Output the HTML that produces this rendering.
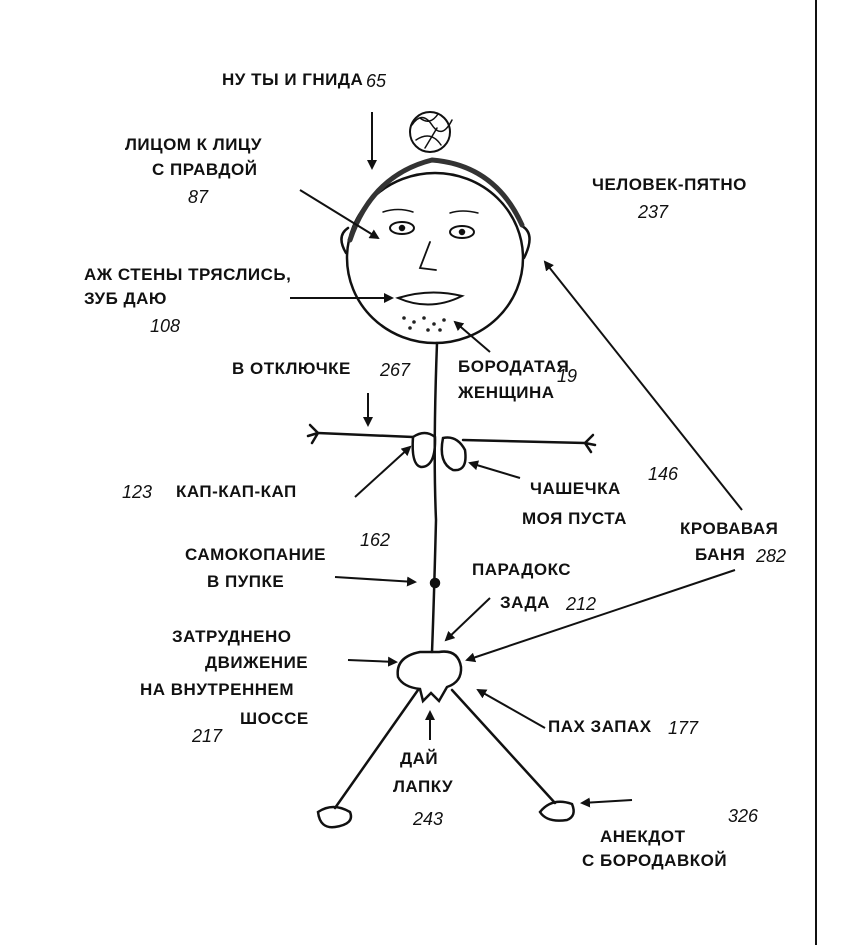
<!DOCTYPE html>
<html><head><meta charset="utf-8"><style>
html,body{margin:0;padding:0;background:#fff;}
svg{display:block}
.t{font-family:"Liberation Sans","Noto Sans CJK SC",sans-serif;font-weight:bold;font-size:17px;fill:#111;letter-spacing:0.5px}
.n{font-family:"Liberation Sans",sans-serif;font-style:italic;font-size:18px;fill:#111}
</style></head><body>
<svg width="859" height="945" viewBox="0 0 859 945" xmlns="http://www.w3.org/2000/svg">
<defs><marker id="a" markerWidth="10" markerHeight="10" refX="8" refY="5" orient="auto" markerUnits="userSpaceOnUse"><path d="M0,0 L10,5 L0,10 z" fill="#111"/></marker></defs>
<line x1="816" y1="0" x2="816" y2="945" stroke="#111" stroke-width="2"/>
<g fill="none" stroke="#111" stroke-width="2.5" stroke-linecap="round">
<ellipse cx="435" cy="258" rx="88" ry="85"/>
<path d="M348,228 q-12,8 -2,25 M522,226 q14,8 2,32" />
<path d="M350,240 Q372,175 432,160 Q495,165 522,225" stroke-width="5" stroke="#333"/>
<circle cx="430" cy="132" r="20" stroke-width="2"/>
<path d="M412,125 q10,-15 20,0 q10,15 20,-5 M416,140 q15,-10 25,5 M420,118 q10,8 18,-4 M425,148 l12,-20" stroke-width="1.5"/>
<path d="M383,212 q15,-5 30,0 M450,213 q12,-4 28,0" stroke-width="1.5"/>
<ellipse cx="402" cy="228" rx="12" ry="6" stroke-width="2"/><circle cx="402" cy="228" r="2" fill="#111"/>
<ellipse cx="462" cy="232" rx="12" ry="6" stroke-width="2"/><circle cx="462" cy="232" r="2" fill="#111"/>
<path d="M430,242 L420,268 L436,270" stroke-width="1.8"/>
<path d="M398,298 Q430,288 462,296 Q430,312 398,298 z" stroke-width="2"/>
<path d="M437,343 Q433,450 436,520 Q434,600 432,652"/>
<circle cx="435" cy="583" r="4" fill="#111"/>
<path d="M318,433 L413,437 M463,440 L585,443"/>
<path d="M318,433 l-8,-8 m8,8 l-10,3 m10,-3 l-6,10"/>
<path d="M585,443 l8,-8 m-8,8 l10,2 m-10,-2 l6,9"/>
<path d="M413,437 q-2,28 8,30 q15,0 14,-30 q-10,-8 -22,0 z"/>
<path d="M443,438 q-5,25 10,32 q15,2 12,-20 q-8,-15 -22,-12 z"/>
<path d="M420,652 q-25,5 -22,25 q5,10 22,12 l3,12 l8,-8 l8,8 l8,-14 q15,-5 14,-20 q-3,-18 -22,-15 z"/>
<path d="M418,690 L335,808 M452,690 L555,803"/>
<path d="M318,812 q15,-10 32,0 q5,12 -15,15 q-15,2 -17,-15 z"/>
<path d="M540,812 q12,-15 32,-8 q5,12 -5,16 q-20,3 -27,-8 z"/>
</g>
<g fill="#222">
<circle cx="404" cy="318" r="1.8"/><circle cx="414" cy="322" r="1.8"/><circle cx="424" cy="318" r="1.8"/><circle cx="434" cy="324" r="1.8"/><circle cx="444" cy="320" r="1.8"/><circle cx="410" cy="328" r="1.8"/><circle cx="428" cy="330" r="1.8"/><circle cx="440" cy="330" r="1.8"/>
</g>
<g stroke="#111" stroke-width="2" fill="none" marker-end="url(#a)">
<line x1="372" y1="112" x2="372" y2="168"/>
<line x1="300" y1="190" x2="378" y2="238"/>
<line x1="290" y1="298" x2="392" y2="298"/>
<line x1="490" y1="352" x2="455" y2="322"/>
<line x1="368" y1="393" x2="368" y2="425"/>
<line x1="355" y1="497" x2="410" y2="447"/>
<line x1="520" y1="478" x2="470" y2="463"/>
<line x1="335" y1="577" x2="415" y2="582"/>
<line x1="490" y1="598" x2="446" y2="640"/>
<line x1="348" y1="660" x2="396" y2="662"/>
<line x1="742" y1="510" x2="545" y2="262"/>
<line x1="735" y1="570" x2="467" y2="660"/>
<line x1="545" y1="728" x2="478" y2="690"/>
<line x1="430" y1="740" x2="430" y2="712"/>
<line x1="632" y1="800" x2="582" y2="803"/>
</g>
<text class="t" x="222" y="85">НУ ТЫ И ГНИДА</text><text class="n" x="366" y="87">65</text>
<text class="t" x="125" y="150">ЛИЦОМ К ЛИЦУ</text>
<text class="t" x="152" y="175">С ПРАВДОЙ</text>
<text class="n" x="188" y="203">87</text>
<text class="t" x="592" y="190">ЧЕЛОВЕК-ПЯТНО</text>
<text class="n" x="638" y="218">237</text>
<text class="t" x="84" y="280">АЖ СТЕНЫ ТРЯСЛИСЬ,</text>
<text class="t" x="84" y="304">ЗУБ ДАЮ</text>
<text class="n" x="150" y="332">108</text>
<text class="t" x="232" y="374">В ОТКЛЮЧКЕ</text><text class="n" x="380" y="376">267</text>
<text class="t" x="458" y="372">БОРОДАТАЯ</text><text class="n" x="557" y="382">19</text>
<text class="t" x="458" y="398">ЖЕНЩИНА</text>
<text class="n" x="122" y="498">123</text><text class="t" x="176" y="497">КАП-КАП-КАП</text>
<text class="t" x="530" y="494">ЧАШЕЧКА</text><text class="n" x="648" y="480">146</text>
<text class="t" x="522" y="524">МОЯ ПУСТА</text>
<text class="t" x="680" y="534">КРОВАВАЯ</text>
<text class="t" x="695" y="560">БАНЯ</text><text class="n" x="756" y="562">282</text>
<text class="t" x="185" y="560">САМОКОПАНИЕ</text><text class="n" x="360" y="546">162</text>
<text class="t" x="207" y="587">В ПУПКЕ</text>
<text class="t" x="472" y="575">ПАРАДОКС</text>
<text class="t" x="500" y="608">ЗАДА</text><text class="n" x="566" y="610">212</text>
<text class="t" x="172" y="642">ЗАТРУДНЕНО</text>
<text class="t" x="205" y="668">ДВИЖЕНИЕ</text>
<text class="t" x="140" y="695">НА ВНУТРЕННЕМ</text>
<text class="t" x="240" y="724">ШОССЕ</text>
<text class="n" x="192" y="742">217</text>
<text class="t" x="548" y="732">ПАХ ЗАПАХ</text><text class="n" x="668" y="734">177</text>
<text class="t" x="400" y="764">ДАЙ</text>
<text class="t" x="393" y="792">ЛАПКУ</text>
<text class="n" x="413" y="825">243</text>
<text class="t" x="600" y="842">АНЕКДОТ</text><text class="n" x="728" y="822">326</text>
<text class="t" x="582" y="866">С БОРОДАВКОЙ</text>
</svg>
</body></html>
